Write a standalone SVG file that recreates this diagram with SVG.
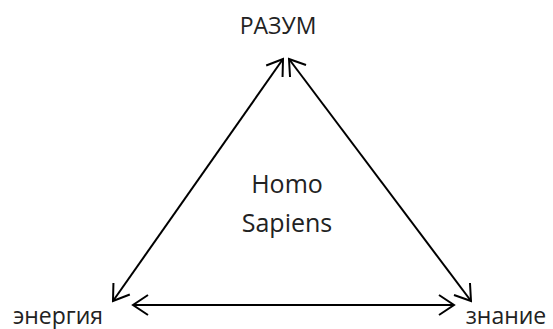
<svg xmlns="http://www.w3.org/2000/svg" width="553" height="329" viewBox="0 0 553 329">
<style>
text{font-family:"Open Sans","Liberation Sans",sans-serif;fill:#222;}
.lbl{font-size:23px;}
.mid{font-size:25px;}
.c{stroke:#000;stroke-width:2;fill:none;}
</style>
<defs>
<marker id="ah" viewBox="0 0 20 24" refX="18" refY="12" markerWidth="20" markerHeight="24" markerUnits="userSpaceOnUse" orient="auto-start-reverse">
<path d="M3,2 L18,12 L3,22" fill="none" stroke="#000" stroke-width="2"/>
</marker>
</defs>
<g id="connectors">
<line class="c" x1="283" y1="59" x2="113" y2="301" marker-start="url(#ah)" marker-end="url(#ah)"/>
<line class="c" x1="289" y1="59" x2="471" y2="301" marker-start="url(#ah)" marker-end="url(#ah)"/>
<line class="c" x1="133" y1="305" x2="454" y2="305" marker-start="url(#ah)" marker-end="url(#ah)"/>
</g>
<g id="razum"><text class="lbl" x="278" y="34" text-anchor="middle">РАЗУМ</text></g>
<g id="energy"><text class="lbl" x="58" y="324" text-anchor="middle">энергия</text></g>
<g id="knowledge"><text class="lbl" x="506" y="324" text-anchor="middle">знание</text></g>
<g id="homo"><text class="mid" x="287" y="193" text-anchor="middle">Homo</text><text class="mid" x="287" y="232" text-anchor="middle">Sapiens</text></g>
</svg>
